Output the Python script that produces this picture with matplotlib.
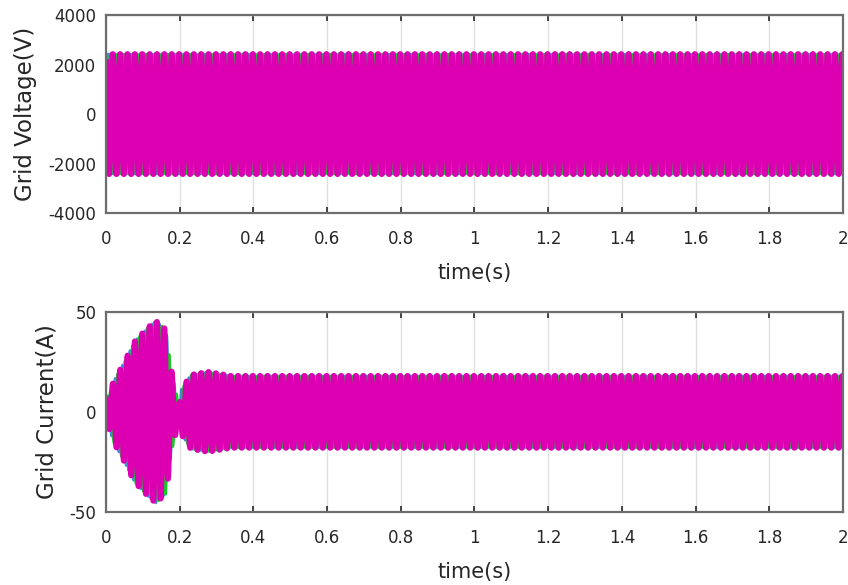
import numpy as np
import matplotlib.pyplot as plt

plt.rcParams.update({"font.family": ["DejaVu Sans"], "axes.unicode_minus": False})

# grid frequency and three-phase colours (plotted in this order)
freq = 50.0
phase_deg = [0, -120, 120]
phase_colors = ["#3a8fd8", "#11cc22", "#dd00b2"]
phase_lw = [2.0, 2.0, 4.2]

# voltage envelope (time [s], amplitude [V])
v_env_t = [0.0, 2.0]
v_env_a = [2430, 2430]

# current envelope (time [s], amplitude [A])
i_env_t = [0.0, 0.01, 0.02, 0.05, 0.077, 0.113, 0.135, 0.163, 0.176, 0.19, 0.198, 0.204, 0.23, 0.277, 0.34, 0.5, 2.0]
i_env_a = [7, 9, 15, 25, 35, 42, 45.5, 41, 22, 10, 3, 11, 18.5, 20, 18, 18, 18]

xticks = [0, 0.2, 0.4, 0.6, 0.8, 1, 1.2, 1.4, 1.6, 1.8, 2]
xticklabels = ["0", "0.2", "0.4", "0.6", "0.8", "1", "1.2", "1.4", "1.6", "1.8", "2"]

t = np.linspace(0, 2, 40001)

fig = plt.figure(figsize=(8.48, 5.85), dpi=100)
ax1 = fig.add_axes([0.125, 0.636, 0.869, 0.338])
ax2 = fig.add_axes([0.125, 0.125, 0.869, 0.342])


def draw(ax, env_t, env_a):
    env = np.interp(t, env_t, env_a)
    for ph, c, w in zip(phase_deg, phase_colors, phase_lw):
        ax.plot(t, env * np.sin(2 * np.pi * freq * t + np.radians(ph)), color=c, lw=w)


draw(ax1, v_env_t, v_env_a)
draw(ax2, i_env_t, i_env_a)

for ax in (ax1, ax2):
    ax.set_xlim(0, 2)
    ax.set_xticks(xticks)
    ax.set_xticklabels(xticklabels)
    ax.grid(True, color="#e0e0e0", lw=1)
    ax.set_axisbelow(True)
    ax.tick_params(direction="in", top=True, right=True, labelsize=12,
                   colors="#262626", length=4, width=1.2)
    ax.tick_params(axis="x", pad=12)
    ax.tick_params(axis="y", pad=7)
    for sp in ax.spines.values():
        sp.set_color("#6e6e6e")
        sp.set_linewidth(1.6)
    ax.set_xlabel("time(s)", fontsize=15, color="#262626", labelpad=11)

ax1.set_ylim(-4000, 4000)
ax1.set_yticks([-4000, -2000, 0, 2000, 4000])
ax1.set_ylabel("Grid Voltage(V)", fontsize=16.5, color="#262626", labelpad=8)

ax2.set_ylim(-50, 50)
ax2.set_yticks([-50, 0, 50])
ax2.set_ylabel("Grid Current(A)", fontsize=16.5, color="#262626", labelpad=8)

fig.savefig("out.png", dpi=100)
